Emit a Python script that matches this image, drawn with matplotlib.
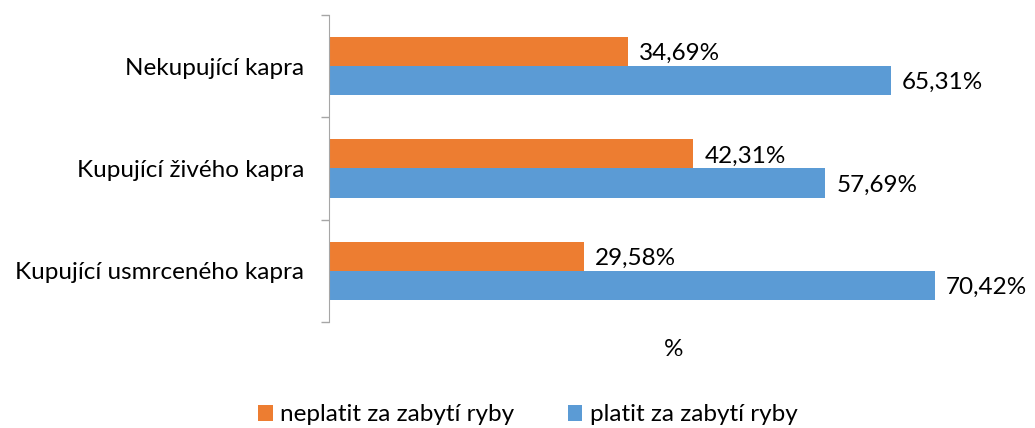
import numpy as np
import matplotlib.pyplot as plt

plt.rcParams['font.family'] = ['Lato', 'DejaVu Sans']

categories = ['Nekupující kapra', 'Kupující živého kapra', 'Kupující usmrceného kapra']
neplatit = [34.69, 42.31, 29.58]
platit = [65.31, 57.69, 70.42]
series_names = ['neplatit za zabytí ryby', 'platit za zabytí ryby']

fig = plt.figure(figsize=(10.35, 4.28), dpi=100)
ax = fig.add_axes([0.318, 0.248, 0.665, 0.717])

y = np.arange(len(categories))
h = 0.285
b1 = ax.barh(y - h / 2, neplatit, height=h, color='#ED7D31', label=series_names[0])
b2 = ax.barh(y + h / 2, platit, height=h, color='#5B9BD5', label=series_names[1])

fs = 17.5
for bars, vals in ((b1, neplatit), (b2, platit)):
    for bar, v in zip(bars, vals):
        ax.text(v + 1.3, bar.get_y() + bar.get_height() / 2 + 0.02,
                f'{v:.2f}%'.replace('.', ','), va='center', ha='left', fontsize=fs)

ax.set_ylim(2.5, -0.5)
ax.set_xlim(0, 80)
ax.set_yticks([-0.5, 0.5, 1.5, 2.5])
ax.set_yticklabels([])
ax.set_yticks(y, minor=True)
ax.set_yticklabels(categories, minor=True, fontsize=fs)
ax.tick_params(axis='y', which='major', length=6, color='#A6A6A6', width=1)
ax.tick_params(axis='y', which='minor', length=0, pad=18)
ax.set_xticks([])
for s in ['top', 'right', 'bottom']:
    ax.spines[s].set_visible(False)
ax.spines['left'].set_color('#A6A6A6')
ax.set_xlabel('%', fontsize=fs, labelpad=12)

fig.legend(handles=[b1, b2], loc='lower center', bbox_to_anchor=(0.51, -0.045), ncol=2,
           frameon=False, fontsize=fs, handlelength=0.6, handleheight=0.6,
           columnspacing=2.2, handletextpad=0.3)

fig.savefig('out.png', dpi=100)
